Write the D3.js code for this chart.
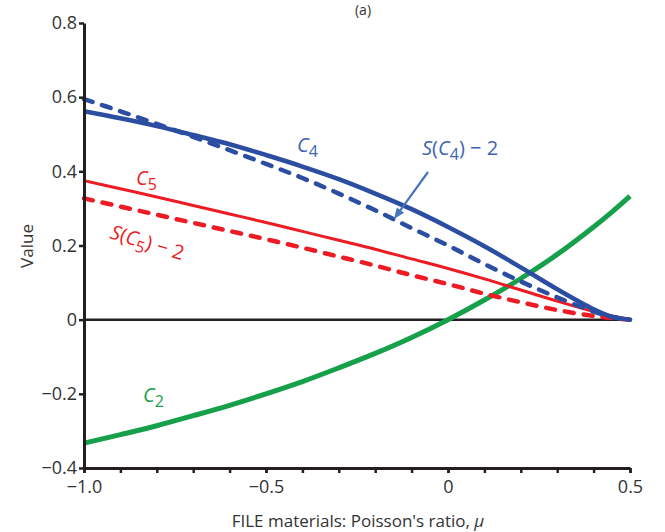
<!DOCTYPE html>
<html>
<head>
<meta charset="utf-8">
<script src="https://cdn.jsdelivr.net/npm/d3@7"></script>
<style>
  html, body { margin: 0; padding: 0; background: #fff; }
  svg { display: block; }
  text { font-family: "Open Sans", "Noto Sans", sans-serif; }
</style>
</head>
<body>
<svg id="chart" width="665" height="532"></svg>
<script>
// ---- data ----
const mu = [-1.0, -0.9, -0.8, -0.7, -0.6, -0.5, -0.4, -0.3, -0.2, -0.1, 0.0, 0.1, 0.2, 0.3, 0.4, 0.45, 0.5];
const C4 = [0.562, 0.543, 0.522, 0.498, 0.473, 0.444, 0.413, 0.379, 0.340, 0.298, 0.250, 0.198, 0.141, 0.082, 0.028, 0.008, 0.0];
const SC4 = [0.595, 0.562, 0.528, 0.493, 0.457, 0.420, 0.382, 0.340, 0.295, 0.247, 0.200, 0.150, 0.103, 0.060, 0.022, 0.007, 0.0];
const C5 = [0.375, 0.353, 0.331, 0.308, 0.285, 0.262, 0.238, 0.214, 0.190, 0.164, 0.138, 0.110, 0.080, 0.050, 0.022, 0.010, 0.0];
const SC5 = [0.327, 0.305, 0.283, 0.261, 0.239, 0.217, 0.194, 0.170, 0.146, 0.120, 0.096, 0.070, 0.047, 0.026, 0.010, 0.004, 0.0];
const C2 = [-0.333, -0.310, -0.286, -0.259, -0.231, -0.200, -0.167, -0.130, -0.091, -0.048, 0.0, 0.053, 0.111, 0.176, 0.250, 0.290, 0.333];

const yTicks = [0.8, 0.6, 0.4, 0.2, 0, -0.2, -0.4];
const yTickLabels = ["0.8", "0.6", "0.4", "0.2", "0", "\u22120.2", "\u22120.4"];
const xMajor = [-1.0, -0.5, 0, 0.5];
const xMajorLabels = ["\u22121.0", "\u22120.5", "0", "0.5"];
const xMinor = [-1.0, -0.9, -0.8, -0.7, -0.6, -0.5, -0.4, -0.3, -0.2, -0.1, 0, 0.1, 0.2, 0.3, 0.4, 0.5];

// ---- drawing ----
const svg = d3.select("#chart");
const ink = "#231f20";
const blue = "#2b4ea2", red = "#ed1c24", green = "#16a04a", blueLabel = "#3d64b2", arrowBlue = "#4677bd";

const x = d3.scaleLinear().domain([-1, 0.5]).range([84, 630]);
const y = d3.scaleLinear().domain([-0.4, 0.8]).range([468, 23]);

const line = d3.line().x(d => x(d[0])).y(d => y(d[1])).curve(d3.curveCatmullRom.alpha(0.5));
const pts = arr => mu.map((m, i) => [m, arr[i]]);

// zero line
svg.append("line")
  .attr("x1", x(-1)).attr("x2", x(0.5))
  .attr("y1", y(0)).attr("y2", y(0))
  .attr("stroke", ink).attr("stroke-width", 2.5);

// curves
svg.append("path").attr("d", line(pts(C2))).attr("fill", "none")
  .attr("stroke", green).attr("stroke-width", 5);
svg.append("path").attr("d", line(pts(C5))).attr("fill", "none")
  .attr("stroke", red).attr("stroke-width", 3);
svg.append("path").attr("d", line(pts(SC5))).attr("fill", "none")
  .attr("stroke", red).attr("stroke-width", 4.5)
  .attr("stroke-dasharray", "9,10").attr("stroke-linecap", "round");
svg.append("path").attr("d", line(pts(C4))).attr("fill", "none")
  .attr("stroke", blue).attr("stroke-width", 4.5);
svg.append("path").attr("d", line(pts(SC4))).attr("fill", "none")
  .attr("stroke", blue).attr("stroke-width", 4.5)
  .attr("stroke-dasharray", "9,10").attr("stroke-linecap", "round");

// y axis
const yAxis = d3.axisLeft(y).tickValues(yTicks)
  .tickFormat((d, i) => yTickLabels[i]).tickSize(5).tickSizeOuter(0).tickPadding(2);
const gy = svg.append("g").attr("transform", `translate(${x(-1)},0)`).call(yAxis);
gy.select(".domain").attr("stroke", ink).attr("stroke-width", 3);
gy.selectAll(".tick line").attr("stroke", ink).attr("stroke-width", 2.5);
gy.selectAll(".tick text").attr("fill", "#333").style("font-size", "18px")
  .style("font-family", "'Open Sans', sans-serif");

// x axis (minor ticks)
const xAxisMinor = d3.axisBottom(x).tickValues(xMinor).tickFormat("").tickSize(5).tickSizeOuter(0);
const gx = svg.append("g").attr("transform", `translate(0,${y(-0.4)})`).call(xAxisMinor);
gx.select(".domain").attr("stroke", ink).attr("stroke-width", 3);
gx.selectAll(".tick line").attr("stroke", ink).attr("stroke-width", 2.5);
// major labels
const xAxisMajor = d3.axisBottom(x).tickValues(xMajor)
  .tickFormat((d, i) => xMajorLabels[i]).tickSize(5).tickSizeOuter(0).tickPadding(7);
const gx2 = svg.append("g").attr("transform", `translate(0,${y(-0.4)})`).call(xAxisMajor);
gx2.select(".domain").remove();
gx2.selectAll(".tick line").attr("stroke", ink).attr("stroke-width", 2.5);
gx2.selectAll(".tick text").attr("fill", "#333").style("font-size", "18px")
  .style("font-family", "'Open Sans', sans-serif");

// axis titles
const xt = svg.append("text").attr("x", 358).attr("y", 527).attr("text-anchor", "middle")
  .attr("fill", "#333").style("font-size", "17px");
xt.append("tspan").text("FILE materials: Poisson's ratio, ");
xt.append("tspan").attr("font-style", "italic").text("\u03bc");

svg.append("text").attr("transform", "translate(33,246) rotate(-90)")
  .attr("text-anchor", "middle").attr("fill", "#333").style("font-size", "17px").text("Value");

// panel title (near the top edge, as in the reference)
svg.append("text").attr("x", 363).attr("y", 15).attr("text-anchor", "middle")
  .attr("fill", "#333").style("font-size", "14px").text("(a)");

// curve labels
function subLabel(tx, ty, parts, color, rot) {
  const t = svg.append("text").attr("fill", color).style("font-size", "20px")
    .attr("transform", `translate(${tx},${ty}) rotate(${rot || 0})`);
  parts.forEach(p => {
    const s = t.append("tspan").text(p.t);
    if (p.i) s.attr("font-style", "italic");
    if (p.sub) s.attr("dy", p.sub).style("font-size", p.sub > 0 ? "16px" : "20px");
  });
  return t;
}
subLabel(297, 152, [{t: "C", i: true}, {t: "4", sub: 5}], blueLabel);
subLabel(422, 155, [{t: "S", i: true}, {t: "("}, {t: "C", i: true}, {t: "4", sub: 5}, {t: ") \u2212 2", sub: -5}], blueLabel);
subLabel(136, 185, [{t: "C", i: true}, {t: "5", sub: 5}], red);
subLabel(109, 238, [{t: "S", i: true}, {t: "("}, {t: "C", i: true}, {t: "5", sub: 5}, {t: ") \u2212 2", sub: -5}], red, 17);
subLabel(143, 402, [{t: "C", i: true}, {t: "2", sub: 5}], green);

// arrow
const ax1 = 428, ay1 = 172, ax2 = 394, ay2 = 219;
const ang = Math.atan2(ay2 - ay1, ax2 - ax1);
svg.append("line").attr("x1", ax1).attr("y1", ay1)
  .attr("x2", ax2 - 7 * Math.cos(ang)).attr("y2", ay2 - 7 * Math.sin(ang))
  .attr("stroke", arrowBlue).attr("stroke-width", 2.2);
const hl = 11, hw = 4.5;
const bx = ax2 - hl * Math.cos(ang), by = ay2 - hl * Math.sin(ang);
svg.append("path")
  .attr("d", `M${ax2},${ay2}L${bx + hw * Math.sin(ang)},${by - hw * Math.cos(ang)}L${bx - hw * Math.sin(ang)},${by + hw * Math.cos(ang)}Z`)
  .attr("fill", arrowBlue);
</script>
</body>
</html>
